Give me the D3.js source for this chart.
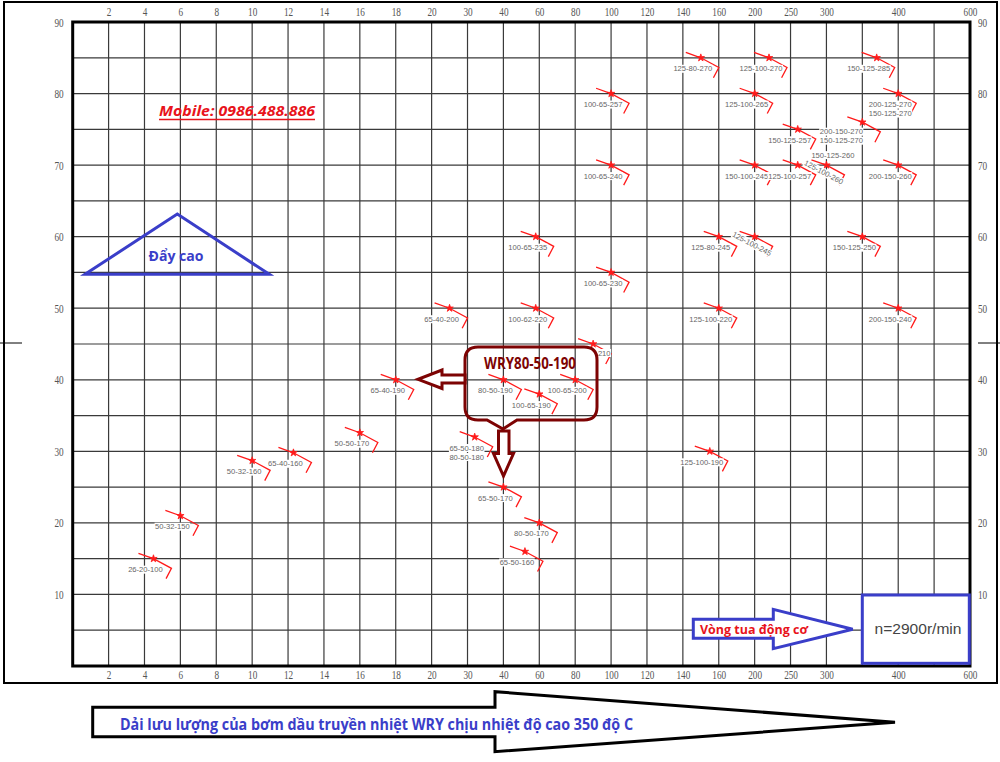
<!DOCTYPE html>
<html><head><meta charset="utf-8">
<script src="https://cdn.jsdelivr.net/npm/d3@7"></script>
<style>body{margin:0;background:#fff}svg{display:block}</style>
</head><body><svg id="c" width="1000" height="762"></svg>
<script>
// ---------- data ----------
const xBreaks = [0,2,4,6,8,10,12,14,16,18,20,30,40,60,80,100,120,140,160,200,250,300,350,400,500,600];
const xTickLabels = [2,4,6,8,10,12,14,16,18,20,30,40,60,80,100,120,140,160,200,250,300,400,600];
const yTickLabels = [10,20,30,40,50,60,70,80,90];
const yGridValues = [5,10,15,20,25,30,35,40,45,50,55,60,65,70,75,80,85];

const pumpModels = [
  "26-20-100","50-32-150","50-32-160","65-40-160","50-50-170","65-40-190","65-40-200",
  "65-50-180\n80-50-180","80-50-190","65-50-170","65-50-160","80-50-170","100-65-190",
  "100-62-220","100-65-235","100-65-200","100-65-210","100-65-230","100-65-240","100-65-257",
  "125-100-190","125-100-220","125-80-245","125-80-270","125-100-245","150-100-245",
  "125-100-265","125-100-270","125-100-257","150-125-257","125-100-260",
  "200-150-270\n150-125-270","150-125-250","150-125-285","200-125-270\n150-125-270",
  "200-150-260","200-150-240"
];
const pumpFlow = [4.5,6,10,12.3,16,18,25,32,40,40,52,60,60,58,58,80,90,100,100,100,
  155,160,160,150,200,200,200,220,260,260,300,350,350,370,400,400,400];
const pumpHead = [15,21,28.7,29.8,32.6,40,50,32,40,25,16,20,38,50,60,40,45,55,70,80,
  30,50,60,85,60,70,80,85,70,75,70,76,60,85,80,70,50];
const extraLabels = [{model:"125-100-260", text:"150-125-260"}];

// ---------- layout ----------
const L = 72.7, R = 970, T = 22, B = 666;
const step = (R - L) / (xBreaks.length - 1);
const x = d3.scaleLinear().domain(xBreaks).range(xBreaks.map((d,i)=> L + i*step));
const y = d3.scaleLinear().domain([0,90]).range([B,T]);

const svg = d3.select("#c");
const BLUE = "#3a3ec9", DRED = "#7d0303", RED = "#ff1a1a";
const labelFont = "'Liberation Sans', Arial, sans-serif";

// outer frame
svg.append("rect").attr("x",4).attr("y",2).attr("width",993).attr("height",681)
  .attr("fill","none").attr("stroke","#000").attr("stroke-width",2);
svg.append("line").attr("x1",0).attr("x2",22).attr("y1",343).attr("y2",343).attr("stroke","#000");
svg.append("line").attr("x1",978).attr("x2",1000).attr("y1",343).attr("y2",343).attr("stroke","#000");

// grid
const grid = svg.append("g").attr("stroke","#3a3a3a").attr("stroke-width",1.2);
grid.selectAll(".vx").data(xBreaks.slice(1,-1)).join("line")
  .attr("x1",d=>x(d)).attr("x2",d=>x(d)).attr("y1",T).attr("y2",B);
grid.selectAll(".hy").data(yGridValues).join("line")
  .attr("y1",d=>y(d)).attr("y2",d=>y(d)).attr("x1",L).attr("x2",R);
svg.append("rect").attr("x",L).attr("y",T).attr("width",R-L).attr("height",B-T)
  .attr("fill","none").attr("stroke","#000").attr("stroke-width",3);

// axes labels (narrow serif digits)
const tickFont = "'Liberation Serif', serif";
const axT = svg.append("g").attr("transform",`translate(0,${T})`)
  .call(d3.axisTop(x).tickValues(xTickLabels).tickSize(0).tickPadding(6).tickFormat(d3.format("d")));
const axB = svg.append("g").attr("transform",`translate(0,${B})`)
  .call(d3.axisBottom(x).tickValues(xTickLabels).tickSize(0).tickPadding(4).tickFormat(d3.format("d")));
const axLft = svg.append("g").attr("transform",`translate(${L},0)`)
  .call(d3.axisLeft(y).tickValues(yTickLabels).tickSize(0).tickPadding(9));
const axRt = svg.append("g").attr("transform",`translate(${R},0)`)
  .call(d3.axisRight(y).tickValues(yTickLabels).tickSize(0).tickPadding(8));
[axT,axB,axLft,axRt].forEach(a=>{
  a.select(".domain").remove();
  a.selectAll("text").attr("font-family",tickFont).attr("font-size",12.5).attr("fill","#555")
    .attr("lengthAdjust","spacingAndGlyphs")
    .attr("textLength",function(){ return this.textContent.length*4.6; });
});

// ---------- pump points ----------
const pts = pumpModels.map((m,i)=>({model:m, q:pumpFlow[i], h:pumpHead[i]}));
const curve = d3.line();
const gP = svg.append("g");
// label placement rules (layout only)
const rotated = new Set(["125-100-245","125-100-260"]);
const shiftLeft = new Set(["200-150-270\n150-125-270"]);
const partlyHidden = new Set(["100-65-210"]);   // only the tail shows beside the callout

const labelLayer = svg.append("g");
pts.forEach(p=>{
  const px = x(p.q), py = y(p.h);
  gP.append("path").attr("d", curve([[px-15,py-5.3],[px,py],[px+18,py+9.7],[px+12.6,py+20]]))
    .attr("fill","none").attr("stroke",RED).attr("stroke-width",1.3);
  gP.append("path").attr("d", d3.symbol(d3.symbolStar).size(17)())
    .attr("transform",`translate(${px},${py})`).attr("fill",RED).attr("stroke",RED).attr("stroke-width",0.8);
  const lines = p.model.split("\n");
  const g = labelLayer.append("g");
  let cx = px - 8, cy = py + 13.5, rot = 0;
  if (rotated.has(p.model)) { cx = px - 4; cy = py + 9.5; rot = 28; }
  if (shiftLeft.has(p.model)) { cx = px - 21; cy = py + 12; }
  if (partlyHidden.has(p.model)) { cy = py + 11.5; }
  g.attr("transform",`translate(${cx},${cy}) rotate(${rot})`);
  lines.forEach((t,k)=>{
    const tx = g.append("text").attr("x",0).attr("y",k*9).attr("text-anchor","middle")
      .attr("font-family",labelFont).attr("font-size",7.6).attr("fill","#666").text(t);
    if (partlyHidden.has(p.model)) {
      const w = tx.node().getComputedTextLength();
      tx.attr("text-anchor","end").attr("x", w/2 + 6).text(t.split("-").pop());
    }
  });
  extraLabels.filter(e=>e.model===p.model).forEach(e=>{
    labelLayer.append("text").attr("x",px+6.5).attr("y",py-7.5).attr("text-anchor","middle")
      .attr("font-family",labelFont).attr("font-size",7.6).attr("fill","#666").text(e.text);
  });
});
// white backgrounds behind labels
labelLayer.selectAll("text").each(function(){
  const b = this.getBBox();
  d3.select(this.parentNode).insert("rect", ()=>this)
    .attr("x",b.x-0.5).attr("y",b.y+0.5).attr("width",b.width+1).attr("height",b.height-1)
    .attr("fill","#fff");
});

// ---------- annotations ----------
// Mobile
svg.append("text").attr("x",159).attr("y",116).attr("font-family","'Open Sans', 'Liberation Sans', sans-serif")
  .attr("font-weight","bold").attr("font-style","italic").attr("font-size",15).attr("fill","#e8131b")
  .attr("textLength",156).attr("lengthAdjust","spacingAndGlyphs").text("Mobile: 0986.488.886");
svg.append("line").attr("x1",159).attr("x2",315).attr("y1",119.5).attr("y2",119.5)
  .attr("stroke","#e8131b").attr("stroke-width",1.3);

// Triangle
svg.append("path").attr("d","M85,274.3 L177.3,214 L269.3,274.3 Z")
  .attr("fill","none").attr("stroke",BLUE).attr("stroke-width",3).attr("stroke-linejoin","miter");
svg.append("text").attr("x",176).attr("y",261).attr("text-anchor","middle")
  .attr("font-family","'Open Sans', sans-serif").attr("font-weight","bold").attr("font-size",15)
  .attr("fill",BLUE).attr("textLength",55).attr("lengthAdjust","spacingAndGlyphs").text("Đẩy cao");

// Callout
const co = svg.append("g").attr("stroke",DRED).attr("stroke-width",3);
co.append("path").attr("fill","none")
  .attr("d","M478,347 H584 Q597,347 597,360 V407 Q597,420 584,420 H517 L503,429 L487,420 H478 Q465,420 465,407 V360 Q465,347 478,347 Z");
co.append("path").attr("fill","#fff").attr("stroke-linejoin","miter")
  .attr("d","M465,375 H442 V370 L418,379.3 L442,388.5 V383 H465 Z");
co.append("path").attr("fill","#fff").attr("stroke-linejoin","miter")
  .attr("d","M498.5,431 V453.5 H493.5 L503.5,476 L513.5,453.5 H509 V431 Z");
svg.append("text").attr("x",484).attr("y",369)
  .attr("font-family","'Open Sans', sans-serif").attr("font-weight","bold").attr("font-size",16)
  .attr("fill",DRED).attr("textLength",92).attr("lengthAdjust","spacingAndGlyphs").text("WRY80-50-190");

// Engine speed arrow
svg.append("path").attr("d","M693.3,619.3 H773.3 V609.3 L852.7,629.3 L773.3,648.7 V638.3 H693.3 Z")
  .attr("fill","#fff").attr("stroke",BLUE).attr("stroke-width",3);
svg.append("text").attr("x",700).attr("y",633.5)
  .attr("font-family","'Open Sans', sans-serif").attr("font-weight","bold").attr("font-size",13)
  .attr("fill","#e8131b").attr("textLength",108).attr("lengthAdjust","spacingAndGlyphs").text("Vòng tua động cơ");
svg.append("rect").attr("x",862.3).attr("y",595).attr("width",107).attr("height",68.3)
  .attr("fill","#fff").attr("stroke",BLUE).attr("stroke-width",3);
svg.append("text").attr("x",918).attr("y",633.5).attr("text-anchor","middle")
  .attr("font-family","'Liberation Sans', Arial, sans-serif").attr("font-size",15)
  .attr("fill","#444").attr("textLength",87).attr("lengthAdjust","spacingAndGlyphs").text("n=2900r/min");

// Bottom arrow
svg.append("path").attr("d","M92.7,707.3 H495 V691.7 L895,722.3 L495,751.7 V736.7 H92.7 Z")
  .attr("fill","#fff").attr("stroke","#000").attr("stroke-width",3).attr("stroke-linejoin","miter");
svg.append("text").attr("x",120).attr("y",730)
  .attr("font-family","'Open Sans', sans-serif").attr("font-weight","bold").attr("font-size",15.5)
  .attr("fill",BLUE).attr("textLength",513).attr("lengthAdjust","spacingAndGlyphs")
  .text("Dải lưu lượng của bơm dầu truyền nhiệt WRY chịu nhiệt độ cao 350 độ C");
</script></body></html>
